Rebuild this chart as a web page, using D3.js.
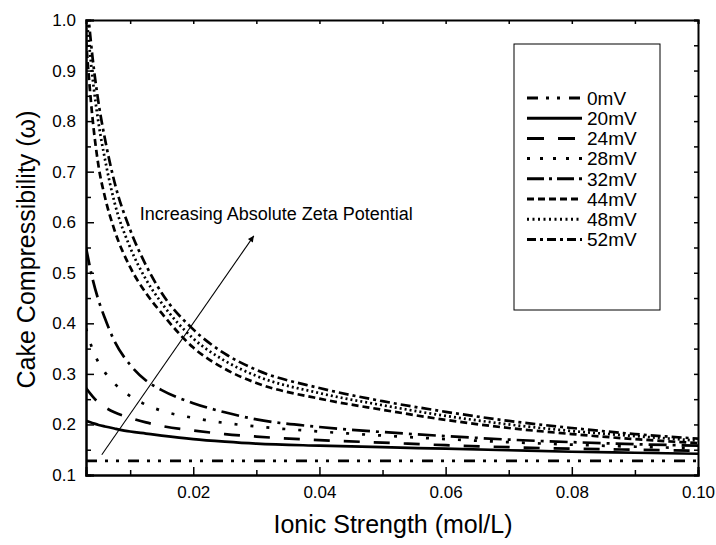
<!DOCTYPE html>
<html>
<head>
<meta charset="utf-8">
<script src="https://cdn.jsdelivr.net/npm/d3@7"></script>
<style>
  html, body { margin: 0; padding: 0; background: #fff; }
  svg { display: block; font-family: "Liberation Sans", Arial, sans-serif; }
</style>
</head>
<body>
<svg id="chart" width="716" height="545"></svg>
<script>
// Ionic strength sampling points (mol/L)
const ionicStrength = [0.003, 0.004, 0.005, 0.006, 0.0075, 0.01, 0.0125, 0.015, 0.02, 0.025, 0.03, 0.04, 0.05, 0.06, 0.07, 0.08, 0.09, 0.1];

// Cake compressibility for each zeta potential
const omega0mV  = [0.128, 0.128, 0.128, 0.128, 0.128, 0.128, 0.128, 0.128, 0.128, 0.128, 0.128, 0.128, 0.128, 0.128, 0.128, 0.128, 0.128, 0.128];
const omega20mV = [0.207, 0.203, 0.199, 0.196, 0.192, 0.186, 0.182, 0.178, 0.171, 0.166, 0.162, 0.158, 0.155, 0.152, 0.149, 0.146, 0.144, 0.142];
const omega24mV = [0.272, 0.256, 0.243, 0.234, 0.224, 0.213, 0.204, 0.197, 0.188, 0.181, 0.176, 0.169, 0.164, 0.159, 0.155, 0.152, 0.150, 0.148];
const omega28mV = [0.390, 0.350, 0.322, 0.303, 0.281, 0.256, 0.239, 0.227, 0.213, 0.203, 0.196, 0.186, 0.178, 0.171, 0.165, 0.160, 0.156, 0.153];
const omega32mV = [0.550, 0.490, 0.445, 0.410, 0.365, 0.318, 0.287, 0.268, 0.242, 0.224, 0.210, 0.195, 0.185, 0.177, 0.170, 0.165, 0.161, 0.158];
const omega44mV = [0.960, 0.810, 0.710, 0.650, 0.585, 0.511, 0.460, 0.420, 0.352, 0.310, 0.282, 0.251, 0.229, 0.209, 0.193, 0.181, 0.171, 0.163];
const omega48mV = [1.020, 0.890, 0.795, 0.725, 0.640, 0.550, 0.487, 0.440, 0.370, 0.326, 0.296, 0.262, 0.238, 0.217, 0.200, 0.187, 0.177, 0.168];
const omega52mV = [1.060, 0.930, 0.835, 0.765, 0.680, 0.585, 0.515, 0.460, 0.388, 0.340, 0.308, 0.272, 0.246, 0.225, 0.207, 0.193, 0.181, 0.172];

const seriesLabels = ["0mV", "20mV", "24mV", "28mV", "32mV", "44mV", "48mV", "52mV"];
const seriesValues = [omega0mV, omega20mV, omega24mV, omega28mV, omega32mV, omega44mV, omega48mV, omega52mV];

// Axis ticks
const xMajorTicks = [0.02, 0.04, 0.06, 0.08, 0.10];
const xMinorTicks = [0.01, 0.03, 0.05, 0.07, 0.09];
const yMajorTicks = [0.1, 0.2, 0.3, 0.4, 0.5, 0.6, 0.7, 0.8, 0.9, 1.0];
const yMinorTicks = [0.15, 0.25, 0.35, 0.45, 0.55, 0.65, 0.75, 0.85, 0.95];

// Annotation: arrow endpoints and label anchor in data units
const arrowStart = [0.0055, 0.140];
const arrowEnd = [0.0296, 0.573];
const noteAnchor = [0.0115, 0.604];
const noteText = "Increasing Absolute Zeta Potential";

// Line styles per series (stroke dash patterns)
const plotDashes = ["11,8,3,8,3,9", null, "16,14", "3,13", "18,6,3,6", "7,4", "2,3", "10,4,3,4"];
const legendDashes = ["11,8,3,8,3,9", null, "17,14", "3,10", "17,5,3,5", "7,4", "2,3.5", "9,4,3,4"];

const svg = d3.select("#chart");
const plotLeft = 86, plotRight = 698, plotTop = 20, plotBottom = 475;

const x = d3.scaleLinear().domain([0.003, 0.1]).range([plotLeft, plotRight]);
const y = d3.scaleLinear().domain([0.1, 1.0]).range([plotBottom, plotTop]);

const defs = svg.append("defs");
defs.append("clipPath").attr("id", "plotClip")
  .append("rect").attr("x", plotLeft).attr("y", plotTop)
  .attr("width", plotRight - plotLeft).attr("height", plotBottom - plotTop);

// Curves
const line = d3.line()
  .x((d, i) => x(ionicStrength[i]))
  .y(d => y(d))
  .curve(d3.curveMonotoneX);

const curves = svg.append("g").attr("clip-path", "url(#plotClip)");
seriesValues.forEach((vals, k) => {
  curves.append("path")
    .attr("d", line(vals))
    .attr("fill", "none")
    .attr("stroke", "#000")
    .attr("stroke-width", 2.7)
    .attr("stroke-dasharray", plotDashes[k]);
});

// Axes
const fmt2 = d3.format(".2f"), fmt1 = d3.format(".1f");

svg.append("g").attr("transform", `translate(0,${plotBottom})`)
  .call(d3.axisBottom(x).tickValues(xMajorTicks).tickFormat(fmt2).tickSize(-8).tickPadding(11));
svg.append("g").attr("transform", `translate(0,${plotBottom})`)
  .call(d3.axisBottom(x).tickValues(xMinorTicks).tickFormat("").tickSize(-5));

svg.append("g").attr("transform", `translate(${plotLeft},0)`)
  .call(d3.axisLeft(y).tickValues(yMajorTicks).tickFormat(fmt1).tickSize(-8).tickPadding(10));
svg.append("g").attr("transform", `translate(${plotLeft},0)`)
  .call(d3.axisLeft(y).tickValues(yMinorTicks).tickFormat("").tickSize(-5));

// Top and right frame with small inward ticks
svg.append("g").attr("transform", `translate(0,${plotTop})`)
  .call(d3.axisTop(x).tickValues(xMajorTicks.concat(xMinorTicks)).tickFormat("").tickSize(-4));
svg.append("g").attr("transform", `translate(${plotRight},0)`)
  .call(d3.axisRight(y).tickValues(yMajorTicks.concat(yMinorTicks)).tickFormat("").tickSize(-4));

svg.selectAll(".domain").attr("stroke", "#000").attr("stroke-width", 2);
svg.selectAll(".tick line").attr("stroke", "#000").attr("stroke-width", 1.5);
svg.selectAll(".tick text").attr("font-size", 17).attr("fill", "#000")
  .attr("font-family", "'Liberation Sans', Arial, sans-serif");

// Axis titles
svg.append("text")
  .attr("x", 393).attr("y", 533)
  .attr("text-anchor", "middle").attr("font-size", 25)
  .text("Ionic Strength (mol/L)");

svg.append("text")
  .attr("transform", `translate(35,${(plotTop + plotBottom) / 2 + 2}) rotate(-90)`)
  .attr("text-anchor", "middle").attr("font-size", 25)
  .text("Cake Compressibility (\u03c9)");

// Annotation arrow and label
defs.append("marker")
  .attr("id", "arrowHead").attr("viewBox", "0 0 10 10")
  .attr("refX", 10).attr("refY", 5)
  .attr("markerWidth", 9).attr("markerHeight", 6)
  .attr("markerUnits", "userSpaceOnUse")
  .attr("orient", "auto")
  .append("path").attr("d", "M0,0 L10,5 L0,10 z").attr("fill", "#000");

svg.append("line")
  .attr("x1", x(arrowStart[0])).attr("y1", y(arrowStart[1]))
  .attr("x2", x(arrowEnd[0])).attr("y2", y(arrowEnd[1]))
  .attr("stroke", "#000").attr("stroke-width", 1.1)
  .attr("marker-end", "url(#arrowHead)");

svg.append("text")
  .attr("x", x(noteAnchor[0])).attr("y", y(noteAnchor[1]))
  .attr("font-size", 18)
  .text(noteText);

// Legend
const legend = svg.append("g");
legend.append("rect")
  .attr("x", 514).attr("y", 44).attr("width", 146).attr("height", 266)
  .attr("fill", "#fff").attr("stroke", "#000").attr("stroke-width", 1);

seriesLabels.forEach((label, k) => {
  const ry = 98 + k * 20.2;
  legend.append("line")
    .attr("x1", 527).attr("x2", 582).attr("y1", ry).attr("y2", ry)
    .attr("stroke", "#000").attr("stroke-width", 3)
    .attr("stroke-dasharray", legendDashes[k]);
  legend.append("text")
    .attr("x", 587).attr("y", ry).attr("dy", "0.36em")
    .attr("font-size", 19)
    .text(label);
});
</script>
</body>
</html>
